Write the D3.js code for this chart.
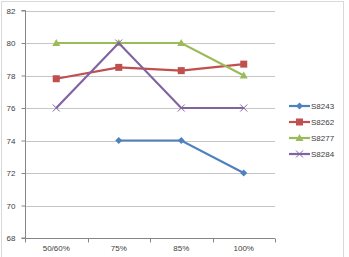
<!DOCTYPE html>
<html><head><meta charset="utf-8">
<script src="https://cdn.jsdelivr.net/npm/d3@7"></script>
<style>body{margin:0;background:#fff}svg{display:block}</style>
</head><body>
<script>
const categories = ["50/60%", "75%", "85%", "100%"];
const seriesNames = ["S8243", "S8262", "S8277", "S8284"];
const s8243 = [null, 74, 74, 72];
const s8262 = [77.8, 78.5, 78.3, 78.7];
const s8277 = [80, 80, 80, 78];
const s8284 = [76, 80, 76, 76];
const yTicks = [68, 70, 72, 74, 76, 78, 80, 82];
const colors = ["#4F81BD", "#C0504D", "#9BBB59", "#8064A2"];
const markers = ["diamond", "square", "triangle", "x"];
const allSeries = [s8243, s8262, s8277, s8284];

const W = 349, H = 257;
const svg = d3.select("body").append("svg").attr("width", W).attr("height", H);
svg.append("rect").attr("x", 1.5).attr("y", 1.5).attr("width", 342).attr("height", 262)
  .attr("fill", "#fff").attr("stroke", "#d9d9d9").attr("stroke-width", 1);

const x0 = 25, x1 = 275, yTop = 10.5, yBot = 238;
const x = d3.scaleBand().domain(categories).range([x0, x1]);
const y = d3.scaleLinear().domain([68, 82]).range([yBot, yTop]);
const font = "Liberation Sans, Arial, sans-serif";

// gridlines
svg.append("g").selectAll("line").data(yTicks.slice(1)).join("line")
  .attr("x1", x0).attr("x2", x1)
  .attr("y1", d => Math.round(y(d)) + 0.5).attr("y2", d => Math.round(y(d)) + 0.5)
  .attr("stroke", "#c6c6c6").attr("stroke-width", 1);

// y axis
const ya = svg.append("g").attr("transform", `translate(${x0 + 0.5},0)`)
  .call(d3.axisLeft(y).tickValues(yTicks).tickSize(4).tickPadding(6).tickFormat(d3.format("d")));
ya.select(".domain").attr("stroke", "#868686").attr("d", `M-4,${yTop}H0V${yBot}H-4`);
ya.selectAll(".tick line").attr("stroke", "#868686");
ya.selectAll("text").attr("font-family", font).attr("font-size", 8).attr("fill", "#404040");

// x axis
const xa = svg.append("g").attr("transform", `translate(0,${Math.round(yBot) + 0.5})`)
  .call(d3.axisBottom(x).tickSize(0).tickPadding(7));
xa.select(".domain").attr("stroke", "#868686").attr("d", `M${x0},0H${x1}`);
xa.selectAll("text").attr("font-family", font).attr("font-size", 8).attr("fill", "#404040");
xa.selectAll(".btick").data(categories.map(c => x(c)).concat([x1])).join("line")
  .attr("x1", d => Math.round(d) + 0.5).attr("x2", d => Math.round(d) + 0.5)
  .attr("y1", 0).attr("y2", 4).attr("stroke", "#868686");

function drawMarker(g, type, cx, cy, color) {
  if (type === "diamond") {
    g.append("path").attr("d", `M${cx},${cy - 3.5}L${cx + 3.5},${cy}L${cx},${cy + 3.5}L${cx - 3.5},${cy}Z`).attr("fill", color);
  } else if (type === "square") {
    g.append("rect").attr("x", cx - 3.5).attr("y", cy - 3.5).attr("width", 7).attr("height", 7).attr("fill", color);
  } else if (type === "triangle") {
    g.append("path").attr("d", `M${cx},${cy - 4}L${cx + 4},${cy + 3}L${cx - 4},${cy + 3}Z`).attr("fill", color);
  } else {
    g.append("path").attr("d", `M${cx - 3.5},${cy - 3.5}L${cx + 3.5},${cy + 3.5}M${cx - 3.5},${cy + 3.5}L${cx + 3.5},${cy - 3.5}`)
      .attr("stroke", color).attr("stroke-width", 1);
  }
}

const line = d3.line().defined(d => d.v != null)
  .x(d => x(d.c) + x.bandwidth() / 2).y(d => y(d.v));

allSeries.forEach((s, i) => {
  const pts = s.map((v, j) => ({ c: categories[j], v }));
  const g = svg.append("g");
  g.append("path").attr("d", line(pts)).attr("fill", "none")
    .attr("stroke", colors[i]).attr("stroke-width", 2.2);
  pts.filter(d => d.v != null).forEach(d =>
    drawMarker(g, markers[i], x(d.c) + x.bandwidth() / 2, y(d.v), colors[i]));
});

// legend
const lg = svg.append("g");
seriesNames.forEach((n, i) => {
  const ly = 106 + i * 16;
  lg.append("line").attr("x1", 289).attr("x2", 310).attr("y1", ly).attr("y2", ly)
    .attr("stroke", colors[i]).attr("stroke-width", 2.2);
  drawMarker(lg, markers[i], 299.5, ly, colors[i]);
  lg.append("text").attr("x", 311).attr("y", ly + 3).text(n)
    .attr("font-family", font).attr("font-size", 8).attr("fill", "#404040");
});
</script>
</body></html>
